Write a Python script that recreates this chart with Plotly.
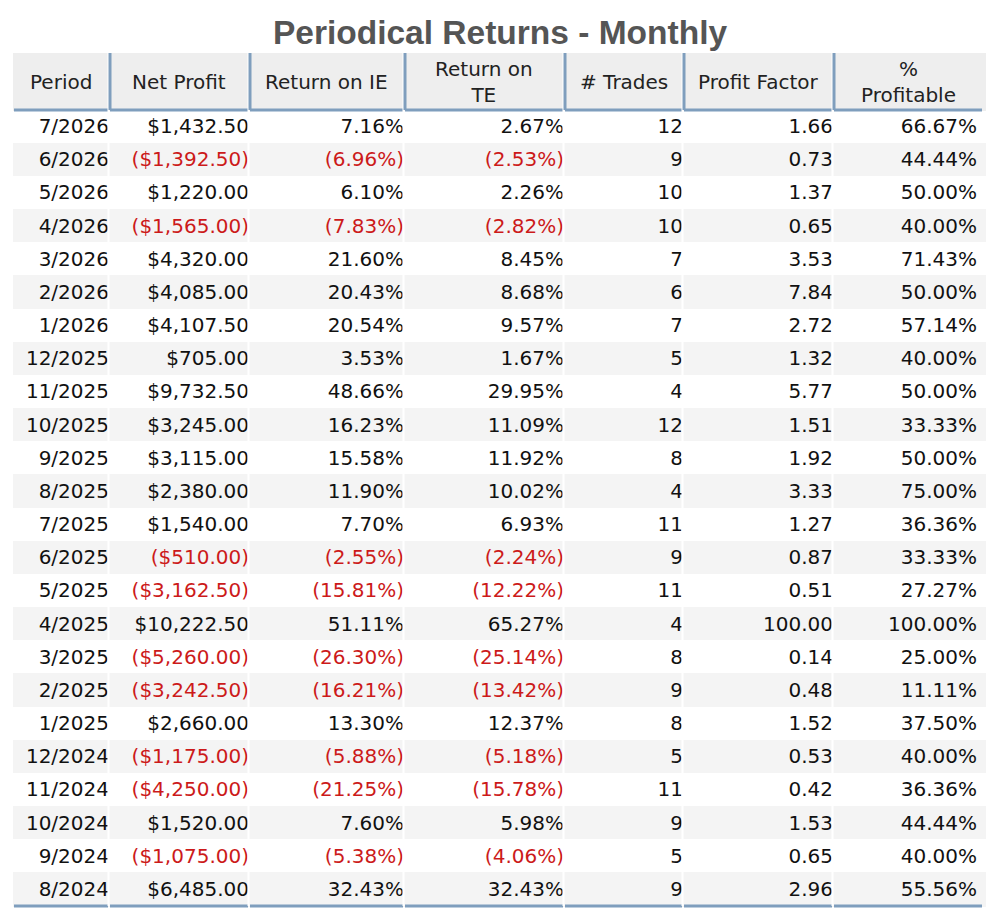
import plotly.graph_objects as go

# ---- data (newest first) ----
periods = ["7/2026", "6/2026", "5/2026", "4/2026", "3/2026", "2/2026", "1/2026",
           "12/2025", "11/2025", "10/2025", "9/2025", "8/2025", "7/2025", "6/2025",
           "5/2025", "4/2025", "3/2025", "2/2025", "1/2025", "12/2024", "11/2024",
           "10/2024", "9/2024", "8/2024"]
net_profit = [1432.50, -1392.50, 1220.00, -1565.00, 4320.00, 4085.00, 4107.50,
              705.00, 9732.50, 3245.00, 3115.00, 2380.00, 1540.00, -510.00,
              -3162.50, 10222.50, -5260.00, -3242.50, 2660.00, -1175.00, -4250.00,
              1520.00, -1075.00, 6485.00]
return_ie = [7.16, -6.96, 6.10, -7.83, 21.60, 20.43, 20.54, 3.53, 48.66, 16.23,
             15.58, 11.90, 7.70, -2.55, -15.81, 51.11, -26.30, -16.21, 13.30,
             -5.88, -21.25, 7.60, -5.38, 32.43]
return_te = [2.67, -2.53, 2.26, -2.82, 8.45, 8.68, 9.57, 1.67, 29.95, 11.09,
             11.92, 10.02, 6.93, -2.24, -12.22, 65.27, -25.14, -13.42, 12.37,
             -5.18, -15.78, 5.98, -4.06, 32.43]
trades = [12, 9, 10, 10, 7, 6, 7, 5, 4, 12, 8, 4, 11, 9, 11, 4, 8, 9, 8, 5, 11, 9, 5, 9]
profit_factor = [1.66, 0.73, 1.37, 0.65, 3.53, 7.84, 2.72, 1.32, 5.77, 1.51, 1.92,
                 3.33, 1.27, 0.87, 0.51, 100.00, 0.14, 0.48, 1.52, 0.53, 0.42,
                 1.53, 0.65, 2.96]
pct_profitable = [66.67, 44.44, 50.00, 40.00, 71.43, 50.00, 57.14, 40.00, 50.00,
                  33.33, 50.00, 75.00, 36.36, 33.33, 27.27, 100.00, 25.00, 11.11,
                  37.50, 40.00, 36.36, 44.44, 40.00, 55.56]
headers = ["Period", "Net Profit", "Return on IE", "Return on<br>TE", "# Trades",
           "Profit Factor", "%<br>Profitable"]


def money(v):
    s = "${:,.2f}".format(abs(v))
    return "(" + s + ")" if v < 0 else s


def pct(v):
    s = "{:.2f}%".format(abs(v))
    return "(" + s + ")" if v < 0 else s


columns = [
    periods,
    [money(v) for v in net_profit],
    [pct(v) for v in return_ie],
    [pct(v) for v in return_te],
    [str(v) for v in trades],
    ["{:.2f}".format(v) for v in profit_factor],
    ["{:.2f}%".format(v) for v in pct_profitable],
]

BLACK = "#111111"
RED = "#cc1a1a"
n = len(periods)
row_colors = [RED if v < 0 else BLACK for v in net_profit]
font_colors = [[BLACK] * n, row_colors, row_colors, row_colors,
               [BLACK] * n, [BLACK] * n, [BLACK] * n]
row_fill = ["#ffffff" if i % 2 == 0 else "#f4f4f4" for i in range(n)]

# page body has an 8px margin, so work in a slightly smaller canvas
OFF = 8
W, H = 1000 - 2 * OFF, 920 - 2 * OFF
col_px = [96, 140, 155, 160, 119, 150, 150]
left_px = 13 - OFF
top_px = 53 - OFF
header_h = 57
row_h = 33.17

# plotly pads cell text by 8px; move inner cell edges right so the
# right-aligned numbers sit flush with the column rules
PAD = 8
edges = [left_px]
for w in col_px:
    edges.append(edges[-1] + w)
cell_edges = [edges[0]] + [e + PAD for e in edges[1:-1]] + [edges[-1] + 2]
cell_px = [b - a for a, b in zip(cell_edges[:-1], cell_edges[1:])]

fig = go.Figure(go.Table(
    domain=dict(x=[cell_edges[0] / W, cell_edges[-1] / W], y=[0, 1 - top_px / H]),
    columnwidth=cell_px,
    header=dict(
        values=[""] * len(headers),
        fill_color="#eeeeee",
        line=dict(color="#eeeeee", width=1),
        height=header_h,
    ),
    cells=dict(
        values=columns,
        fill_color=[row_fill] * len(columns),
        line=dict(color=[row_fill] * len(columns), width=1),
        align="right",
        height=row_h,
        font=dict(family="DejaVu Sans", size=20, color=font_colors),
    ),
))

# header labels (centred both ways), white column gaps and blue-grey rules
BLUE = "#7f9ebd"
shapes = []
annotations = []
hdr_top = 1 - top_px / H
hdr_bottom = 1 - (top_px + header_h) / H
tbl_bottom = 1 - (top_px + header_h + row_h * n) / H
for i, w in enumerate(col_px):
    edge = edges[i]
    a = (edge + 1) / W
    b = (edge + w - 1) / W
    annotations.append(dict(
        text=headers[i], x=(edge + w / 2) / W, y=(hdr_top + hdr_bottom) / 2,
        xref="paper", yref="paper", xanchor="center", yanchor="middle",
        align="center", showarrow=False,
        font=dict(family="DejaVu Sans", size=20, color="#222222"),
    ))
    if i > 0:
        gap = (edge - 0.5) / W
        shapes.append(dict(type="line", xref="paper", yref="paper",
                           x0=gap, x1=gap, y0=hdr_top, y1=tbl_bottom,
                           line=dict(color="white", width=2)))
        shapes.append(dict(type="line", xref="paper", yref="paper", x0=a, x1=a,
                           y0=hdr_top, y1=hdr_bottom,
                           line=dict(color=BLUE, width=3)))
    shapes.append(dict(type="line", xref="paper", yref="paper", x0=a, x1=b,
                       y0=hdr_bottom, y1=hdr_bottom, line=dict(color=BLUE, width=3)))
    shapes.append(dict(type="line", xref="paper", yref="paper", x0=a, x1=b,
                       y0=tbl_bottom, y1=tbl_bottom, line=dict(color=BLUE, width=3)))

fig.update_layout(
    width=W, height=H,
    margin=dict(l=0, r=0, t=0, b=0),
    paper_bgcolor="white",
    shapes=shapes,
    annotations=annotations,
    title=dict(
        text="<b>Periodical Returns - Monthly</b>",
        x=0.5, xanchor="center", y=1 - (32 - OFF) / H, yanchor="middle",
        font=dict(family="Liberation Sans", size=33.5, color="#555555"),
    ),
)

fig.write_html("out.html")
